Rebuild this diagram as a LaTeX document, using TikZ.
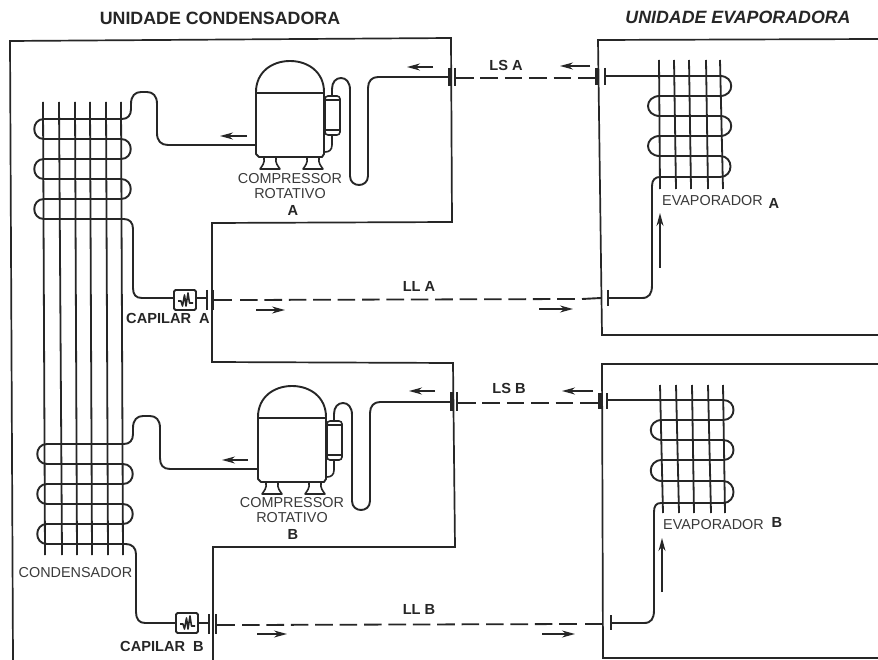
\documentclass[tikz,border=0pt]{standalone}
\usepackage{fontspec}
\setmainfont{Liberation Sans}
\usetikzlibrary{arrows.meta}
\definecolor{ink}{HTML}{262626}
\definecolor{txt}{HTML}{3A3A3A}
\tikzset{
  wall/.style={draw=ink,line width=1.7pt},
  pipe/.style={draw=ink,line width=1.9pt,line join=round},
  fin/.style={draw=ink,line width=1.8pt},
  thin flange/.style={draw=ink,line width=1.8pt},
  heavy flange/.style={draw=ink,line width=3.4pt},
  dashline/.style={draw=ink,line width=1.8pt,dash pattern=on 17.6pt off 6.8pt},
  flow/.style={draw=ink,line width=1.4pt,-{Stealth[length=13pt,width=7pt]}},
  lbl/.style={text=txt,font=\fontsize{14.4}{15}\selectfont,inner sep=0pt},
  blbl/.style={text=ink,font=\fontsize{14.6}{15}\selectfont\bfseries,inner sep=0pt},
  compressor/.pic={
    \draw[pipe] (256,148) -- (256,92) .. controls (256,72) and (272,61) .. (290,61)
       .. controls (308,61) and (324,72) .. (324,92) -- (324,154) -- (322,157) -- (259,157) -- (256,154) -- cycle;
    \draw[pipe,line width=1.6pt] (256,93) -- (324,93);
    \draw[pipe,line width=1.6pt] (264,158) .. controls (265,163) and (262,166) .. (260,169) -- (280,169)
       .. controls (278,166) and (275,163) .. (276,158);
    \draw[pipe,line width=1.6pt] (307,158) .. controls (308,163) and (305,166) .. (303,169) -- (323,169)
       .. controls (321,166) and (318,163) .. (319,158);
    \draw[pipe,line width=1.6pt,rounded corners=3pt] (325,96) -- (340,96) -- (340,135) -- (325,135) -- cycle;
    \draw[pipe,line width=1.6pt] (325,100) -- (340,100) (325,130) -- (340,130);
    \draw[pipe,line width=1.6pt] (332,135) -- (332,145) .. controls (332,150) and (329,152) .. (325,152);
    \draw[pipe] (332,95) -- (332,89) .. controls (332,82) and (336,78) .. (341,78)
       .. controls (346,78) and (350,82) .. (350,90) -- (350,176)
       .. controls (350,188) and (368,188) .. (368,176) -- (368,88)
       .. controls (368,81) and (372,77) .. (378,77) -- (449,77);
  },
  capbox/.pic={
    \draw[pipe,rounded corners=1.5pt] (-11,-10) rectangle (11,10);
    \draw[pipe,line width=1.6pt] (-7,1) -- (-4,1) -- (-2.5,6) -- (-0.5,-5) -- (1,6) -- (3,-7) -- (4.5,3) -- (8,3);
  }
}
\begin{document}
\begin{tikzpicture}[x=1pt,y=-1pt]
\useasboundingbox (0,0) rectangle (878,660);
\fill[white] (0,0) rectangle (878,660);

% titles
\node[inner sep=0pt,text=ink,font=\fontsize{17.8}{18}\selectfont\bfseries] (t1) at (220,18) {UNIDADE CONDENSADORA};
\node[inner sep=0pt,text=ink,font=\fontsize{17.8}{18}\selectfont\bfseries\itshape] (t2) at (738,17) {UNIDADE EVAPORADORA};

% cabinet walls
\draw[wall] (13,660) -- (10,41) -- (451,38) -- (452,222) -- (212,223) -- (212,362) -- (453,363) -- (455,547) -- (213,547) -- (213,660);
\draw[wall] (878,39) -- (598,40) -- (602,335) -- (878,335);
\draw[wall] (878,364) -- (602,364) -- (603,658) -- (878,658);

% condenser fins
\foreach \a/\b in {43/45,59/62,75/77,90/92,106/108,121/123}
  \draw[fin] (\a,102) -- (\b,555);

% condenser coil A
\draw[pipe] (256,145) -- (168,145) .. controls (161,145) and (157,141) .. (157,133) -- (157,104)
  .. controls (157,96) and (153,92) .. (147,92) -- (141,92) .. controls (135,92) and (131,96) .. (131,104) -- (131,109)
  .. controls (131,115) and (128,119) .. (122,119) -- (44,119)
  .. controls (31,119) and (31,139) .. (44,139) -- (121,139)
  .. controls (134,139) and (134,159) .. (121,159) -- (44,159)
  .. controls (31,159) and (31,179) .. (44,179) -- (121,179)
  .. controls (134,179) and (134,199) .. (121,199) -- (44,199)
  .. controls (31,199) and (31,219) .. (44,219) -- (124,219)
  .. controls (130,219) and (133,223) .. (133,229) -- (133,288)
  .. controls (133,295) and (136,298) .. (142,298) -- (173,298);
\pic at (185,300) {capbox};
\draw[pipe] (196,298) -- (207,298);
\draw[heavy flange,line width=2.2pt] (207,290) -- (207,310);
\draw[heavy flange,line width=2.8pt] (213,290) -- (213,310);
\draw[pipe] (213,300) -- (232,300);
\draw[dashline] (240,300) -- (576,299);
\draw[pipe] (582,299) -- (601,298);
\node[blbl] (capa) at (168,318) {CAPILAR\ \ A};

% condenser coil B
\draw[pipe] (257,469) -- (170,469) .. controls (163,469) and (160,465) .. (160,458) -- (160,428)
  .. controls (160,420) and (156,416) .. (150,416) -- (143,416) .. controls (137,416) and (133,420) .. (133,428) -- (133,434)
  .. controls (133,440) and (130,444) .. (124,444) -- (47,444)
  .. controls (34,444) and (34,464) .. (47,464) -- (123,464)
  .. controls (136,464) and (136,484) .. (123,484) -- (47,484)
  .. controls (34,484) and (34,504) .. (47,504) -- (123,504)
  .. controls (136,504) and (136,524) .. (123,524) -- (47,524)
  .. controls (34,524) and (34,544) .. (47,544) -- (126,544)
  .. controls (132,544) and (136,548) .. (136,554) -- (136,612)
  .. controls (136,619) and (139,623) .. (145,623) -- (176,623);
\pic at (187,623) {capbox};
\draw[pipe] (198,623) -- (209,623);
\draw[heavy flange,line width=2.2pt] (209,614) -- (209,634);
\draw[heavy flange,line width=2.8pt] (216,614) -- (216,634);
\draw[pipe] (216,625) -- (235,625);
\draw[dashline] (242,625) -- (579,624);
\draw[pipe] (585,624) -- (603,624);
\node[blbl] (capb) at (162,646) {CAPILAR\ \ B};
\node[lbl] (cond) at (75.5,573) {CONDENSADOR};

% compressors
\pic at (0,0) {compressor};
\pic at (2,325) {compressor};
\node[lbl] (c1a) at (290,179) {COMPRESSOR};
\node[lbl] (c2a) at (290,194) {ROTATIVO};
\node[blbl] (c3a) at (293,210) {A};
\node[lbl] (c1b) at (292,503) {COMPRESSOR};
\node[lbl] (c2b) at (292,518) {ROTATIVO};
\node[blbl] (c3b) at (293,534) {B};

% suction flanges and lines
\draw[heavy flange] (450,68) -- (450,86);
\draw[thin flange] (455,68) -- (455,86);
\draw[dashline] (456,78) -- (596,78);
\draw[heavy flange] (597,68) -- (597,85);
\draw[thin flange] (605,68) -- (605,85);
\draw[heavy flange] (452,392) -- (452,411);
\draw[thin flange] (457,392) -- (457,411);
\draw[dashline] (458,403) -- (598,403);
\draw[heavy flange] (600,393) -- (600,409);
\draw[thin flange] (607,393) -- (607,409);

% evaporator A
\foreach \a/\b in {659/660,674/676,689/691,706/708,720/723}
  \draw[fin] (\a,60) -- (\b,189);
\draw[pipe] (605,76) -- (720,76) .. controls (735,76) and (735,96) .. (720,96) -- (660,96)
  .. controls (644,96) and (644,116) .. (660,116) -- (720,116)
  .. controls (735,116) and (735,136) .. (720,136) -- (660,136)
  .. controls (644,136) and (644,156) .. (660,156) -- (720,156)
  .. controls (734,156) and (734,177) .. (720,177) -- (660,177)
  .. controls (655,177) and (652,180) .. (652,186) -- (652,285)
  .. controls (652,294) and (649,298) .. (642,298) -- (608,298);
\draw[thin flange] (608,290) -- (608,306);
\draw[flow] (660,268) -- (660,213);
\node[lbl,anchor=west] (eva) at (662,201) {EVAPORADOR};
\node[blbl] (evaa) at (774,203) {A};

% evaporator B
\foreach \a/\b in {660/663,676/679,692/694,708/711,723/725}
  \draw[fin] (\a,385) -- (\b,513);
\draw[pipe] (607,400) -- (723,400) .. controls (737,400) and (737,420) .. (723,420) -- (662,420)
  .. controls (647,420) and (647,440) .. (662,440) -- (723,440)
  .. controls (737,440) and (737,460) .. (723,460) -- (662,460)
  .. controls (647,460) and (647,481) .. (662,481) -- (723,481)
  .. controls (737,481) and (737,503) .. (723,503) -- (661,503)
  .. controls (656,503) and (654,506) .. (654,512) -- (654,610)
  .. controls (654,619) and (651,623) .. (644,623) -- (611,623);
\draw[thin flange] (611,615) -- (611,630);
\draw[flow] (662,592) -- (662,538);
\node[lbl,anchor=west] (evb) at (663,525) {EVAPORADOR};
\node[blbl] (evbb) at (777,522) {B};

% line labels
\node[blbl] (lsa) at (506,65) {LS A};
\node[blbl] (lla) at (419,286) {LL A};
\node[blbl] (lsb) at (509,388) {LS B};
\node[blbl] (llb) at (419,609) {LL B};

% flow arrows
\draw[flow] (433,67) -- (407,67);
\draw[flow] (247,136) -- (220,136);
\draw[flow] (590,66) -- (560,66);
\draw[flow] (435,391) -- (409,391);
\draw[flow] (248,460) -- (222,460);
\draw[flow] (593,391) -- (562,391);
\draw[flow] (256,310) -- (285,310);
\draw[flow] (539,309) -- (573,309);
\draw[flow] (257,634) -- (287,634);
\draw[flow] (542,634) -- (575,634);
\end{tikzpicture}
\end{document}
